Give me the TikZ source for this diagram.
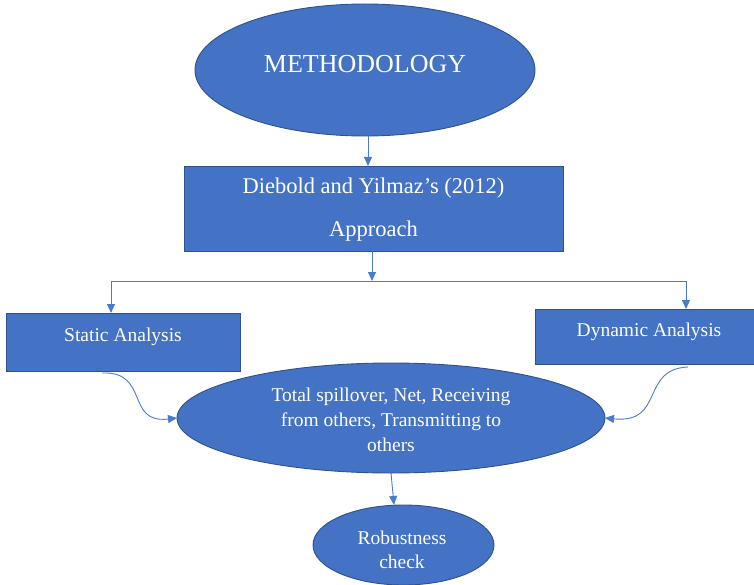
\documentclass[tikz,border=0pt]{standalone}
\usepackage{fontspec}
\setmainfont{Liberation Serif}
\usetikzlibrary{shapes.geometric,arrows.meta}
\definecolor{officeblue}{HTML}{4472C4}
\definecolor{borderblue}{HTML}{2F528F}
\definecolor{arrowblue}{HTML}{4A7BCF}
\tikzset{
  blueshape/.style={fill=officeblue,draw=borderblue,line width=0.9pt,inner sep=0pt,outer sep=0pt,text=white},
  ell/.style={blueshape,ellipse},
  boxshape/.style={blueshape,rectangle},
  txt/.style={text=white,inner sep=0pt,align=center},
  conn/.style={draw=arrowblue,line width=0.9pt},
  arr/.style={conn,-{Triangle[length=9pt,width=8pt]}},
}
\begin{document}
\begin{tikzpicture}[x=1pt,y=-1pt]
\useasboundingbox (0,0) rectangle (754,585);
% top ellipse
\node[ell,minimum width=340pt,minimum height=132pt,font=\fontsize{26}{30}\selectfont] (meth) at (365,70) {};
\node[txt,font=\fontsize{26}{30}\selectfont] (methtxt) at (365,64) {METHODOLOGY};
% Diebold box
\node[boxshape,minimum width=379pt,minimum height=85pt] (dy) at (373.5,208.5) {};
\node[txt,font=\fontsize{22.5}{43}\selectfont] (dytxt) at (373.5,210) {Diebold and Yilmaz’s (2012)\\Approach};
% static / dynamic boxes
\node[boxshape,minimum width=234pt,minimum height=58pt] (stat) at (123,342) {};
\node[txt,font=\fontsize{19.5}{24}\selectfont] (stattxt) at (123,337) {Static Analysis};
\node[boxshape,minimum width=219pt,minimum height=55pt] (dyn) at (644.5,336.5) {};
\node[txt,font=\fontsize{19.5}{24}\selectfont] (dyntxt) at (649,332) {Dynamic Analysis};
% middle ellipse
\node[ell,minimum width=428pt,minimum height=110pt] (tot) at (391,418) {};
\node[txt,font=\fontsize{19.5}{25}\selectfont] (tottxt) at (391,420) {Total spillover, Net, Receiving\\from others, Transmitting to\\others};
% robustness ellipse
\node[ell,minimum width=181pt,minimum height=80pt] (rob) at (403.5,545) {};
\node[txt,font=\fontsize{19.5}{24}\selectfont] (robtxt) at (402,550) {Robustness\\check};
% connectors
\coordinate (split) at (372,281);
\coordinate (splitL) at (111,281);
\coordinate (splitR) at (686,281);
\draw[arr] (meth.south -| 368,0) -- (dy.north -| 368,0);
\draw[arr] (dy.south -| split) -- (split);
\draw[conn] (splitL) -- (splitR);
\draw[arr] (splitL) -- (stat.north -| splitL);
\draw[arr] (splitR) -- (dyn.north -| splitR);
\coordinate (sl) at (102,373);
\coordinate (sr) at (688,367);
\draw[arr] (sl) .. controls (150,371) and (125,424) .. (tot.west);
\draw[arr] (sr) .. controls (640,369) and (665,424) .. (tot.east);
\draw[arr] (391,473) -- (rob.north -| 394,0);
\end{tikzpicture}
\end{document}
